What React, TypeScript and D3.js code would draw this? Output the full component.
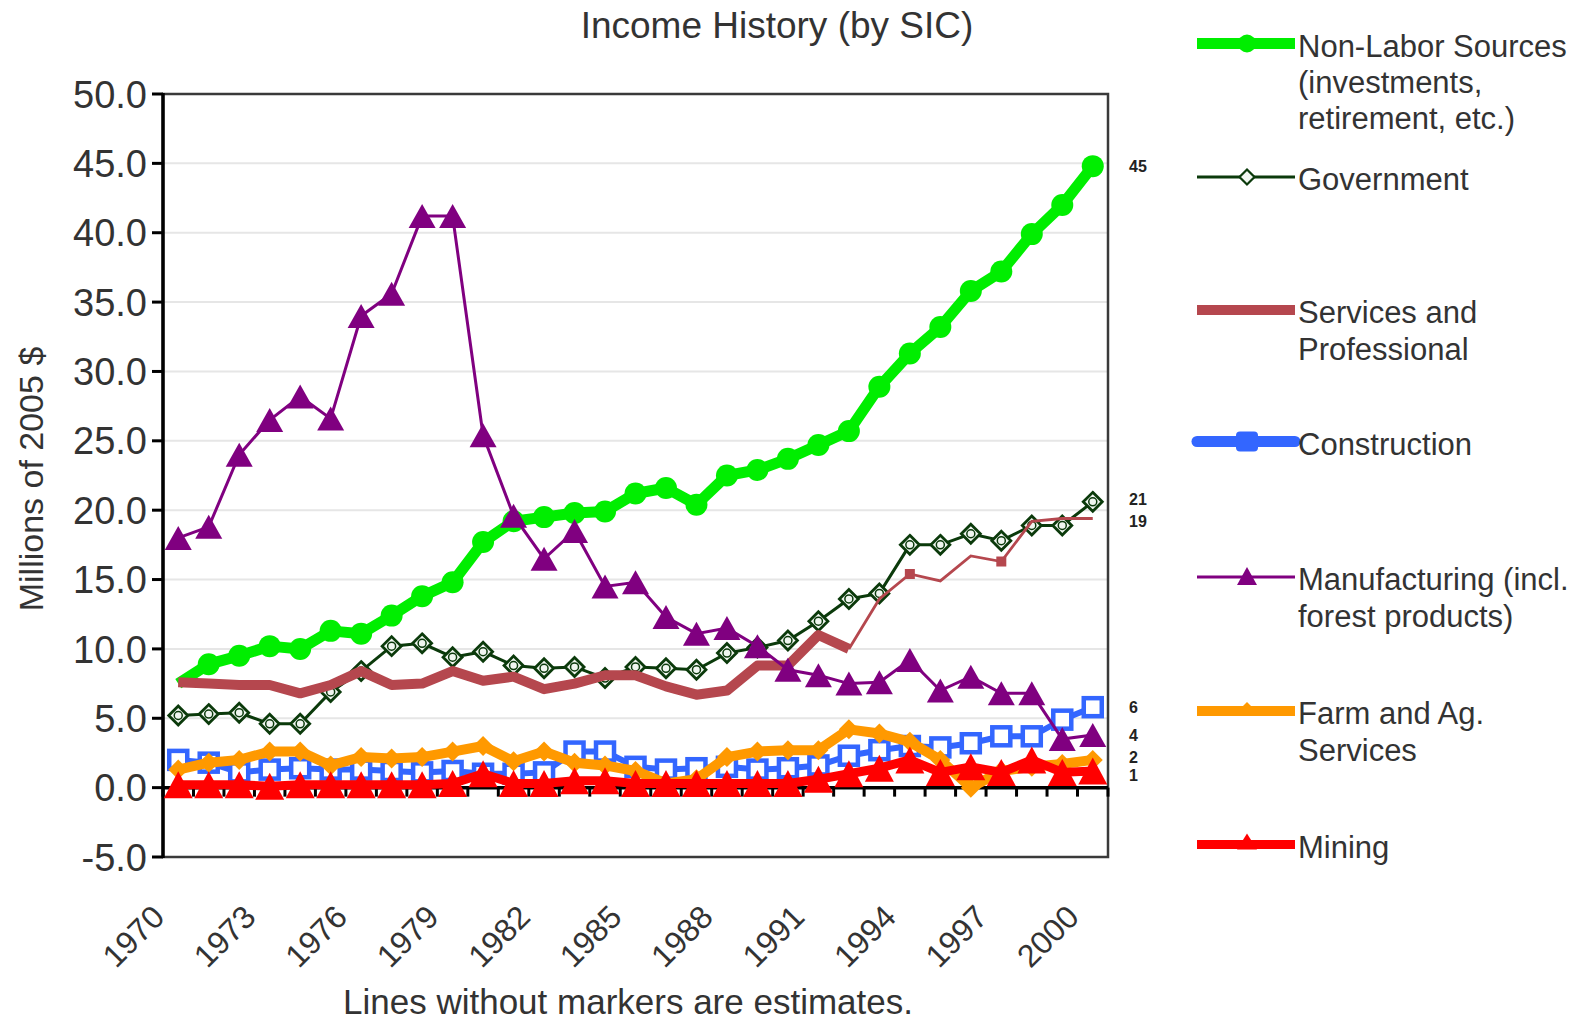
import React from "react";
import * as d3 from "d3";

// ---------- DATA ----------
const years = ["1970","1971","1972","1973","1974","1975","1976","1977","1978","1979","1980","1981","1982","1983","1984","1985","1986","1987","1988","1989","1990","1991","1992","1993","1994","1995","1996","1997","1998","1999","2000"];
const xTickLabels = ["1970","1973","1976","1979","1982","1985","1988","1991","1994","1997","2000"];

const nonLabor = [7.5, 8.9, 9.5, 10.2, 10.0, 11.3, 11.1, 12.4, 13.8, 14.8, 17.7, 19.2, 19.5, 19.8, 19.9, 21.2, 21.6, 20.4, 22.5, 22.9, 23.7, 24.7, 25.7, 28.9, 31.3, 33.2, 35.8, 37.2, 39.9, 42.0, 44.8];
const government = [5.2, 5.3, 5.4, 4.6, 4.6, 6.9, 8.4, 10.2, 10.4, 9.4, 9.8, 8.8, 8.6, 8.7, 7.9, 8.7, 8.6, 8.5, 9.7, 10.1, 10.6, 12.0, 13.6, 14.0, 17.5, 17.5, 18.3, 17.8, 18.9, 18.9, 20.6];
const services = [7.6, 7.5, 7.4, 7.4, 6.8, 7.4, 8.4, 7.4, 7.5, 8.4, 7.7, 8.0, 7.1, 7.5, 8.1, 8.1, 7.3, 6.7, 7.0, 8.8, 8.8, 11.0, 10.0, 13.6, 15.4, 14.9, 16.7, 16.3, 19.2, 19.4, 19.4];
const construction = [2.0, 1.8, 1.1, 1.3, 1.4, 1.3, 1.3, 1.2, 1.1, 1.2, 1.0, 1.0, 1.1, 2.6, 2.6, 1.5, 1.3, 1.4, 1.5, 1.3, 1.4, 1.6, 2.3, 2.7, 3.0, 2.9, 3.2, 3.7, 3.7, 4.9, 5.8];
const manufacturing = [18.0, 18.8, 24.0, 26.5, 28.2, 26.6, 34.0, 35.6, 41.2, 41.2, 25.4, 19.6, 16.5, 18.5, 14.5, 14.8, 12.3, 11.1, 11.5, 10.2, 8.5, 8.1, 7.5, 7.6, 9.2, 7.0, 8.0, 6.8, 6.8, 3.5, 3.8];
const farm = [1.3, 1.8, 2.0, 2.6, 2.6, 1.6, 2.2, 2.1, 2.2, 2.6, 3.0, 1.9, 2.6, 1.8, 1.6, 1.2, 0.3, 0.6, 2.2, 2.6, 2.7, 2.7, 4.2, 3.9, 3.3, 2.0, 0.0, 1.2, 1.5, 1.7, 2.0];
const mining = [0.2, 0.2, 0.2, 0.1, 0.2, 0.2, 0.2, 0.2, 0.2, 0.3, 1.0, 0.3, 0.3, 0.5, 0.5, 0.3, 0.3, 0.3, 0.3, 0.3, 0.3, 0.6, 1.0, 1.4, 2.0, 1.1, 1.5, 1.1, 2.0, 1.1, 1.2];

const nonLaborUnmarkedYears = ["1970"];
const servicesEstimateThickUntil = "1992";
const servicesMarkedYears = ["1994", "1997"];

const legendLabels = [
  ["Non-Labor Sources", "(investments,", "retirement, etc.)"],
  ["Government"],
  ["Services and", "Professional"],
  ["Construction"],
  ["Manufacturing (incl.", "forest products)"],
  ["Farm and Ag.", "Services"],
  ["Mining"],
];

// ---------- LAYOUT ----------
const W = 1584, H = 1023;
const PL = 163, PR = 1108, PT = 94, PB = 857;
const FONT = "'Liberation Sans', Arial, Helvetica, sans-serif";
const TEXT = "#333";

const C = {
  green: "#00ee00",
  gov: "#0b3a0b",
  serv: "#b5474e",
  cons: "#3366ff",
  manu: "#800080",
  farm: "#ff9900",
  mine: "#ff0000",
};

const tri = (w: number, h: number) => `M0,${-h / 2}L${w / 2},${h / 2}L${-w / 2},${h / 2}Z`;
const dia = (r: number) => `M0,${-r}L${r},0L0,${r}L${-r},0Z`;

export default function App() {
  const x = d3.scalePoint<string>().domain(years).range([PL, PR]).padding(0.5);
  const y = d3.scaleLinear().domain([-5, 50]).range([PB, PT]);
  const step = x.step();
  const px = (i: number) => x(years[i]) as number;
  const line = d3.line<number>().x((_, i) => px(i)).y((d) => y(d));
  const lineFrom = (arr: number[], start: number) =>
    d3.line<number>().x((_, i) => px(i + start)).y((d) => y(d))(arr) as string;

  const yTicks = y.ticks(11);
  const fmt1 = (v: number) => d3.format(".1f")(v).replace("\u2212", "-");
  const fmt0 = d3.format(".0f");

  const thickEnd = years.indexOf(servicesEstimateThickUntil);

  const markers = (arr: number[], render: (cx: number, cy: number, k: number) => React.ReactNode, skip: string[] = []) =>
    arr.map((v, i) => (skip.includes(years[i]) ? null : render(px(i), y(v), i)));

  // small vertical nudges keep the crowded end labels from colliding
  const rightLabels = [
    { v: nonLabor[nonLabor.length - 1], nudge: 0 },
    { v: government[government.length - 1], nudge: -3 },
    { v: services[services.length - 1], nudge: 3 },
    { v: construction[construction.length - 1], nudge: 0 },
    { v: manufacturing[manufacturing.length - 1], nudge: 0 },
    { v: farm[farm.length - 1], nudge: -3 },
    { v: mining[mining.length - 1], nudge: 4 },
  ];

  const legendY = [45.5, 179, 312, 443.5, 579, 713, 846.5];
  const LX0 = 1197, LX1 = 1295, LXM = 1247, LT = 1298;

  const legendSymbol = (k: number, cy: number) => {
    switch (k) {
      case 0:
        return (<g><line x1={LX0} x2={LX1} y1={cy} y2={cy} stroke={C.green} strokeWidth={11} /><circle cx={LXM} cy={cy} r={9} fill={C.green} /></g>);
      case 1:
        return (<g><line x1={LX0} x2={LX1} y1={cy} y2={cy} stroke={C.gov} strokeWidth={3} /><path d={dia(7.5)} transform={`translate(${LXM},${cy})`} fill="#f2f7f2" stroke={C.gov} strokeWidth={2.2} /></g>);
      case 2:
        return (<line x1={LX0} x2={LX1} y1={cy} y2={cy} stroke={C.serv} strokeWidth={10} />);
      case 3:
        return (<g><line x1={LX0} x2={LX1} y1={cy} y2={cy} stroke={C.cons} strokeWidth={11} strokeLinecap="round" /><rect x={LXM - 11} y={cy - 10} width={22} height={20} fill={C.cons} rx={4} /></g>);
      case 4:
        return (<g><line x1={LX0} x2={LX1} y1={cy} y2={cy} stroke={C.manu} strokeWidth={3} /><path d={tri(20, 18)} transform={`translate(${LXM},${cy - 1})`} fill={C.manu} /></g>);
      case 5:
        return (<g><line x1={LX0} x2={LX1} y1={cy} y2={cy} stroke={C.farm} strokeWidth={10} /><path d={dia(7)} transform={`translate(${LXM},${cy - 2})`} fill={C.farm} /></g>);
      default:
        return (<g><line x1={LX0} x2={LX1} y1={cy} y2={cy} stroke={C.mine} strokeWidth={9} /><path d={tri(20, 16)} transform={`translate(${LXM},${cy - 3})`} fill={C.mine} /></g>);
    }
  };

  return (
    <svg width={W} height={H} style={{ position: "absolute", left: 0, top: 0, background: "#fff" }} fontFamily={FONT}>
      <rect x={0} y={0} width={W} height={H} fill="#fff" />
      {/* title */}
      <text x={777} y={38} textAnchor="middle" fontSize={37} fill={TEXT}>Income History (by SIC)</text>

      {/* gridlines */}
      {yTicks.filter((t) => t !== -5 && t !== 50 && t !== 0).map((t) => (
        <line key={"g" + t} x1={PL} x2={PR} y1={y(t)} y2={y(t)} stroke="#e6e6e6" strokeWidth={2} />
      ))}

      {/* plot border */}
      <rect x={PL} y={PT} width={PR - PL} height={PB - PT} fill="none" stroke="#3a3a3a" strokeWidth={2.5} />

      {/* y axis */}
      <line x1={PL} x2={PL} y1={PT - 1} y2={PB + 1} stroke="#000" strokeWidth={3.5} />
      {yTicks.map((t) => (
        <g key={"yt" + t}>
          <line x1={PL - 11} x2={PL} y1={y(t)} y2={y(t)} stroke="#000" strokeWidth={3} />
          <text x={147} y={y(t)} dy="0.36em" textAnchor="end" fontSize={38} fill={TEXT}>{fmt1(t)}</text>
        </g>
      ))}
      <text transform={`translate(43,${479}) rotate(-90)`} textAnchor="middle" fontSize={34} fill={TEXT}>Millions of 2005 $</text>

      {/* x axis at zero */}
      <line x1={PL} x2={PR} y1={y(0)} y2={y(0)} stroke="#000" strokeWidth={3.5} />
      {d3.range(years.length + 1).map((i) => (
        <line key={"xt" + i} x1={PL + i * step} x2={PL + i * step} y1={y(0)} y2={y(0) + 9} stroke="#000" strokeWidth={3} />
      ))}
      {xTickLabels.map((lab) => (
        <text key={"xl" + lab} transform={`translate(${(x(lab) as number) - 12},${919}) rotate(-45)`} textAnchor="end" fontSize={32} fill={TEXT}>{lab}</text>
      ))}
      <text x={628} y={1014} textAnchor="middle" fontSize={35} fill={TEXT}>Lines without markers are estimates.</text>

      {/* Non-Labor */}
      <path d={line(nonLabor) as string} fill="none" stroke={C.green} strokeWidth={11} strokeLinejoin="round" />
      {markers(nonLabor, (cx, cy, k) => <circle key={"nl" + k} cx={cx} cy={cy} r={11} fill={C.green} />, nonLaborUnmarkedYears)}

      {/* Government */}
      <path d={line(government) as string} fill="none" stroke={C.gov} strokeWidth={3} />
      {markers(government, (cx, cy, k) => (
        <g key={"gv" + k} transform={`translate(${cx},${cy})`}>
          <path d={dia(9.5)} fill="#f0f6f0" stroke={C.gov} strokeWidth={2.8} />
          <circle r={4} fill="none" stroke={C.gov} strokeWidth={1.5} />
        </g>
      ))}

      {/* Services */}
      <path d={lineFrom(services.slice(0, thickEnd + 1), 0)} fill="none" stroke={C.serv} strokeWidth={10} strokeLinejoin="round" />
      <path d={lineFrom(services.slice(thickEnd), thickEnd)} fill="none" stroke={C.serv} strokeWidth={2.8} />
      {markers(services, (cx, cy, k) => (servicesMarkedYears.includes(years[k]) ? <rect key={"sv" + k} x={cx - 5} y={cy - 5} width={10} height={10} fill={C.serv} /> : null))}

      {/* Construction */}
      <path d={line(construction) as string} fill="none" stroke={C.cons} strokeWidth={6} />
      {markers(construction, (cx, cy, k) => (
        <rect key={"cn" + k} x={cx - 9} y={cy - 9} width={18} height={18} fill="#fff" stroke={C.cons} strokeWidth={4.5} />
      ))}

      {/* Manufacturing */}
      <path d={line(manufacturing) as string} fill="none" stroke={C.manu} strokeWidth={3} />
      {markers(manufacturing, (cx, cy, k) => (
        <path key={"mf" + k} d={tri(27, 24)} transform={`translate(${cx},${cy})`} fill={C.manu} />
      ))}

      {/* Farm */}
      <path d={line(farm) as string} fill="none" stroke={C.farm} strokeWidth={10} strokeLinejoin="round" />
      {markers(farm, (cx, cy, k) => (
        <path key={"fm" + k} d={dia(10)} transform={`translate(${cx},${cy})`} fill={C.farm} />
      ))}

      {/* Mining */}
      <path d={line(mining) as string} fill="none" stroke={C.mine} strokeWidth={9} strokeLinejoin="round" />
      {markers(mining, (cx, cy, k) => (
        <path key={"mn" + k} d={tri(29, 27)} transform={`translate(${cx},${cy})`} fill={C.mine} />
      ))}

      {/* right value labels */}
      {rightLabels.map((r, k) => (
        <text key={"rl" + k} x={1129} y={y(r.v) + r.nudge} dy="0.36em" fontSize={16} fontWeight="bold" fill="#222">{fmt0(r.v)}</text>
      ))}

      {/* legend */}
      {legendLabels.map((lines, k) => (
        <g key={"lg" + k}>
          {legendSymbol(k, legendY[k] - 2)}
          {lines.map((ln, j) => (
            <text key={j} x={LT} y={legendY[k] + j * 36.4} dy="0.36em" fontSize={31} fill={TEXT}>{ln}</text>
          ))}
        </g>
      ))}
    </svg>
  );
}
